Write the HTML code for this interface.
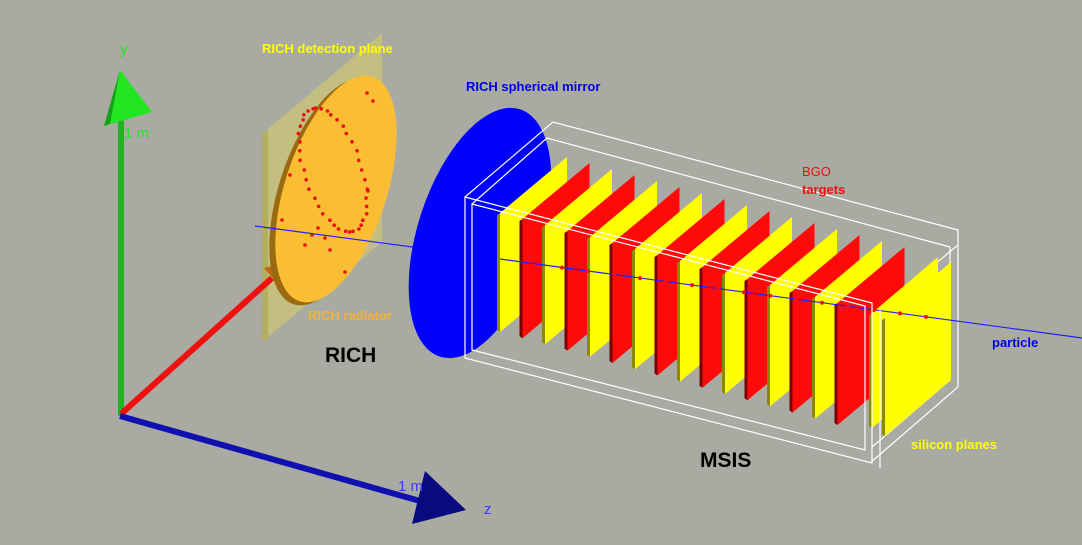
<!DOCTYPE html>
<html><head><meta charset="utf-8"><style>
html,body{margin:0;padding:0;background:#a9aba3;width:1082px;height:545px;overflow:hidden}
svg{display:block}
text{font-family:"Liberation Sans","DejaVu Sans",sans-serif}
</style></head><body>
<svg id="s" width="1082" height="545" viewBox="0 0 1082 545" xmlns="http://www.w3.org/2000/svg">
<rect width="1082" height="545" fill="#a9aba3"/>
<rect x="118" y="120" width="6" height="296" fill="#1fb51f"/>
<polygon points="120,70 104,126 152,112" fill="#22e622"/>
<polygon points="120,70 104,126 110,124" fill="#17a017"/>
<text x="120" y="54" fill="#22e622" font-size="15">y</text>
<text x="124" y="138" fill="#22e622" font-size="15">1 m</text>
<polygon points="262,134 382,33 382,242 262,342" fill="#c8c27a" opacity="0.85"/>
<polygon points="262,134 268,130 268,338 262,342" fill="#b3ad5e"/>
<line x1="121" y1="414" x2="272" y2="278" stroke="#f01010" stroke-width="6"/>
<polygon points="264,268 280,264 276,282" fill="#c06a10"/>
<text x="276" y="282" fill="#d84010" font-size="15">1 m</text>
<ellipse cx="330" cy="192" rx="51" ry="118" transform="rotate(18 330 192)" fill="#9a6a10"/>
<ellipse cx="336" cy="189" rx="51" ry="118" transform="rotate(18 336 189)" fill="#fbbd33"/>
<g id="dots" fill="#e81010"></g>
<text x="308" y="320" fill="#f3b33a" font-size="13" font-weight="bold">RICH radiator</text>
<text x="262" y="53" fill="#ffff00" font-size="13" font-weight="bold">RICH detection plane</text>
<text x="325" y="362" fill="#000" font-size="21" font-weight="bold">RICH</text>
<line x1="120" y1="416" x2="420" y2="501" stroke="#1010b0" stroke-width="6"/>
<polygon points="425,471 466,510 412,524" fill="#0a0a80"/>
<text x="398" y="491" fill="#3a3aff" font-size="15">1 m</text>
<text x="484" y="514" fill="#3a3aff" font-size="15">z</text>
<line x1="255" y1="226" x2="420" y2="248" stroke="#2020ff" stroke-width="1.2"/>
<ellipse cx="480" cy="233" rx="62" ry="130" transform="rotate(18 480 233)" fill="#0000ff"/>
<text x="466" y="91" fill="#0000ee" font-size="13" font-weight="bold">RICH spherical mirror</text>
<g stroke="#fff" stroke-width="1.2" fill="none">
<polyline points="465,197 553,122 958,230 958,387 870,463"/>
<polyline points="472,204 547,138 950,247 950,380 872,447"/>
<line x1="880" y1="310" x2="958" y2="245"/>
</g>
<g id="plates"></g>
<line x1="500" y1="259" x2="1082" y2="338" stroke="#2020ff" stroke-width="1.2"/>
<g id="track" fill="#f01010"></g>
<g stroke="#fff" stroke-width="1.2" fill="none">
<polygon points="465,197 872,303 872,463 465,358"/>
<polygon points="472,204 865,306 865,450 472,350"/>
<line x1="880" y1="310" x2="880" y2="468"/>
</g>
<text x="802" y="176" fill="#ee1010" font-size="13">BGO</text>
<text x="802" y="194" fill="#ee1010" font-size="13" font-weight="bold">targets</text>
<text x="992" y="347" fill="#0000ee" font-size="13" font-weight="bold">particle</text>
<text x="911" y="449" fill="#ffff00" font-size="13" font-weight="bold">silicon planes</text>
<text x="700" y="467" fill="#000" font-size="21" font-weight="bold">MSIS</text>
</svg>
<script>
var NS="http://www.w3.org/2000/svg",g=document.getElementById('plates');
function p(pts,f){var e=document.createElementNS(NS,'polygon');e.setAttribute('points',pts);e.setAttribute('fill',f);g.appendChild(e);}
for(var i=0;i<16;i++){
 var x=500+i*22.5,yt=213+i*6,yb=332+i*6.2,red=i%2==1;
 p((x-3)+','+(yt+2)+' '+x+','+yt+' '+x+','+yb+' '+(x-3)+','+(yb-2),red?'#7a0000':'#8a8a00');
 p(x+','+yt+' '+(x+67)+','+(yt-56)+' '+(x+67)+','+(yb-56)+' '+x+','+yb,red?'#ff0a0a':'#ffff00');
}
[[872,313,428],[885,318,436]].forEach(function(a){var x=a[0],yt=a[1],yb=a[2];
 p((x-3)+','+(yt+2)+' '+x+','+yt+' '+x+','+yb+' '+(x-3)+','+(yb-2),'#8a8a00');
 p(x+','+yt+' '+(x+66)+','+(yt-56)+' '+(x+66)+','+(yb-56)+' '+x+','+yb,'#ffff00');});
var tr=document.getElementById('track');
for(var k=0;k<15;k++){var x=562+k*26,y=226+(x-255)*112/827;var c=document.createElementNS(NS,'circle');c.setAttribute('cx',x);c.setAttribute('cy',y);c.setAttribute('r',2);tr.appendChild(c);}
var d=document.getElementById('dots');
for(var t=0;t<40;t++){var a=t/40*6.283;var x=333+33*Math.cos(a)*0.9+55*Math.sin(a)*0.3,y=170+62*Math.sin(a);
 var c=document.createElementNS(NS,'circle');c.setAttribute('cx',(x+(t%3-1)).toFixed(1));c.setAttribute('cy',y.toFixed(1));c.setAttribute('r',1.8);d.appendChild(c);}
[[312,235],[318,228],[325,238],[305,245],[330,250],[290,175],[282,220],[368,191],[345,272],[367,93],[373,101]].forEach(function(q){var c=document.createElementNS(NS,'circle');c.setAttribute('cx',q[0]);c.setAttribute('cy',q[1]);c.setAttribute('r',1.8);d.appendChild(c);});
</script>
</body></html>
